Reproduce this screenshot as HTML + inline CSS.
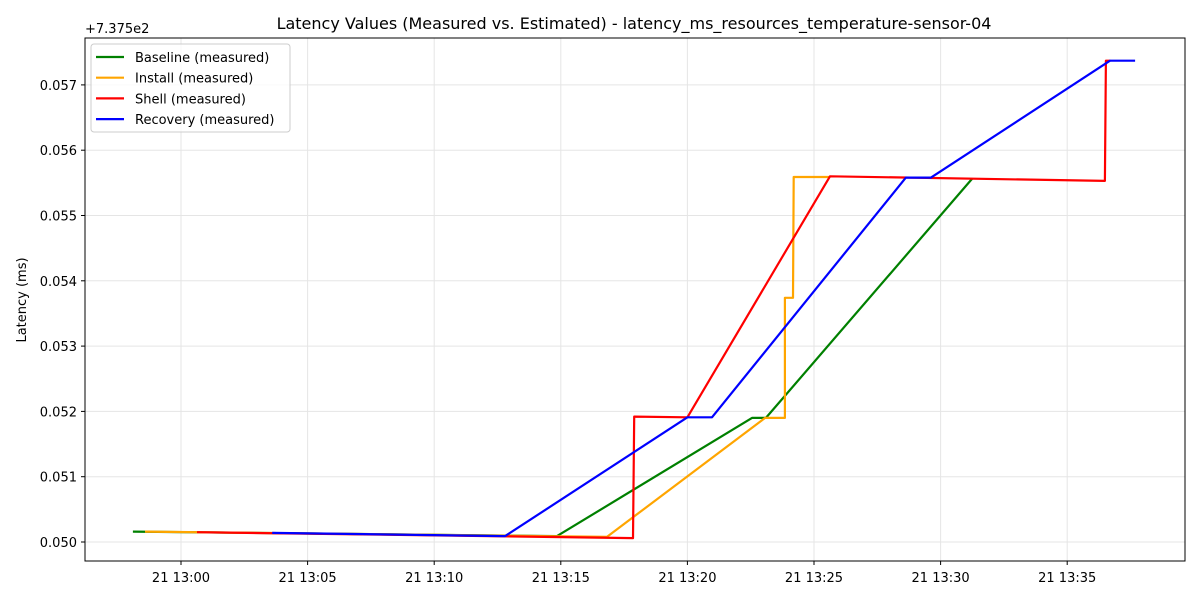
<!DOCTYPE html>
<html><head><meta charset="utf-8"><style>
body{margin:0;background:#fff;font-family:"Liberation Sans","DejaVu Sans",sans-serif}
</style></head><body>
<svg id="chart" width="1200" height="600" xmlns="http://www.w3.org/2000/svg" font-family="DejaVu Sans, Liberation Sans, sans-serif">
<rect width="1200" height="600" fill="#fff"/>
<text x="634" y="29" text-anchor="middle" font-size="16">Latency Values (Measured vs. Estimated) - latency_ms_resources_temperature-sensor-04</text>
<text x="85" y="33" font-size="13">+7.375e2</text>
<text transform="translate(26,300) rotate(-90)" text-anchor="middle" font-size="13">Latency (ms)</text>
<g id="grid"></g><g id="ticks"></g><g id="series"></g>
<rect x="85" y="38" width="1100" height="523" fill="none" stroke="#000" stroke-width="1"/>
<g id="legend"></g>
</svg>
<script>
const xTickMinutes=[0,5,10,15,20,25,30,35];
const xTickLabels=["21 13:00","21 13:05","21 13:10","21 13:15","21 13:20","21 13:25","21 13:30","21 13:35"];
const yTicks=[0.050,0.051,0.052,0.053,0.054,0.055,0.056,0.057];
const yTickLabels=["0.050","0.051","0.052","0.053","0.054","0.055","0.056","0.057"];
const seriesNames=["Baseline (measured)","Install (measured)","Shell (measured)","Recovery (measured)"];
const seriesColors=["green","orange","red","blue"];
const baselineX=[-1.9,14.85,22.55,23.1,31.24];
const baselineY=[0.05016,0.05009,0.0519,0.0519,0.05556];
const installX=[-1.42,16.83,23.07,23.85,23.85,24.17,24.2,25.63];
const installY=[0.05016,0.05008,0.0519,0.0519,0.05374,0.05374,0.05559,0.05559];
const shellX=[0.63,17.85,17.9,20,25.63,36.49,36.53,36.7];
const shellY=[0.05015,0.05006,0.05192,0.05191,0.0556,0.05553,0.05737,0.05737];
const recoveryX=[3.6,12.8,20,20.97,28.63,29.62,36.69,37.68];
const recoveryY=[0.05014,0.05009,0.05191,0.05191,0.05558,0.05558,0.05737,0.05737];
const NS="http://www.w3.org/2000/svg";
const xs=m=>181+m*25.32;
const ys=v=>542-(v-0.050)*65300;
function mk(t,a,p){const e=document.createElementNS(NS,t);for(const k in a)e.setAttribute(k,a[k]);p.appendChild(e);return e;}
const grid=document.getElementById('grid'),ticks=document.getElementById('ticks'),ser=document.getElementById('series'),leg=document.getElementById('legend');
xTickMinutes.forEach((m,i)=>{const x=xs(m);
 const g=mk('line',{x1:x,x2:x,y1:38,y2:561,stroke:'#e5e5e5','stroke-width':1},grid);
 
 
 const t=mk('line',{x1:x,x2:x,y1:561,y2:565,stroke:'#000'},ticks);
 
 
 const l=mk('text',{x:x,y:582,'text-anchor':'middle','font-size':13},ticks);l.textContent=xTickLabels[i];
 
 
});
yTicks.forEach((v,i)=>{const y=ys(v);
 const g=mk('line',{x1:85,x2:1185,y1:y,y2:y,stroke:'#e5e5e5','stroke-width':1},grid);
 
 
 const t=mk('line',{x1:81,x2:85,y1:y,y2:y,stroke:'#000'},ticks);
 
 
 const l=mk('text',{x:77,y:y+5,'text-anchor':'end','font-size':13},ticks);l.textContent=yTickLabels[i];
 
 
});
const data=[[baselineX,baselineY],[installX,installY],[shellX,shellY],[recoveryX,recoveryY]];
data.forEach((d,i)=>{
 const pts=d[0].map((m,j)=>xs(m).toFixed(1)+','+ys(d[1][j]).toFixed(1)).join(' ');
 const p=mk('polyline',{points:pts,fill:'none',stroke:seriesColors[i],'stroke-width':2.2,'stroke-linejoin':'round'},ser);
 
 
});
const box=mk('rect',{x:91,y:44,width:199,height:88,rx:3,fill:'#fff','fill-opacity':0.8,stroke:'#ccc'},leg);


seriesNames.forEach((n,i)=>{const y=57+i*20.7;
 const g=mk('g',{},leg);
 
 
 mk('line',{x1:96,x2:124,y1:y,y2:y,stroke:seriesColors[i],'stroke-width':2.2},g);
 const t=mk('text',{x:135,y:y+5,'font-size':13},g);t.textContent=n;
});
</script>
</body></html>
